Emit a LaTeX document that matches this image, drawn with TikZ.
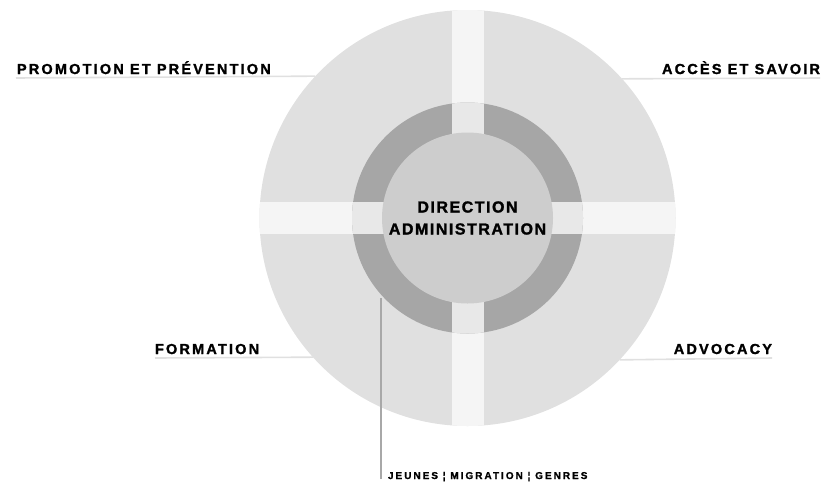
\documentclass[tikz,border=0pt]{standalone}
\usepackage{fontspec}
\setmainfont{Liberation Sans}
\newfontfamily\lblfont[LetterSpace=15,FakeBold=1.5]{Liberation Sans Bold}
\newfontfamily\ctrfont[LetterSpace=9.5,FakeBold=1.5]{Liberation Sans Bold}
\newfontfamily\smfont[LetterSpace=20,FakeBold=1.2]{Liberation Sans Bold}
\definecolor{outerc}{HTML}{E0E0E0}
\definecolor{bandc}{HTML}{F5F5F5}
\definecolor{bandin}{HTML}{E8E8E8}
\definecolor{ringc}{HTML}{A6A6A6}
\definecolor{innerc}{HTML}{CDCDCD}
\definecolor{linec}{HTML}{E0E0E0}
\definecolor{leadc}{HTML}{A8A8A8}
\tikzset{
  disc/.style={circle, inner sep=0pt, outer sep=0pt, draw=none},
  lbl/.style={inner sep=0pt, outer sep=0pt, font=\lblfont\fontsize{14.5}{17}\selectfont},
  uline/.style={draw=linec, line width=1.6pt},
  leader/.style={draw=leadc, line width=2pt}
}
\begin{document}
\begin{tikzpicture}[x=1pt,y=-1pt]
\useasboundingbox (0,0) rectangle (821,483);
\node[lbl, anchor=base west] (pp) at (17,74) {PROMOTION ET PRÉVENTION};
\node[lbl, anchor=base east] (as) at (820,74) {ACCÈS ET SAVOIR};
\node[lbl, anchor=base west] (fo) at (155,354) {FORMATION};
\node[lbl, anchor=base east] (ad) at (772,354) {ADVOCACY};
\coordinate (ppl) at (16,78);
\coordinate (asr) at (820,78);
\coordinate (fol) at (155,358);
\coordinate (adr) at (772,358);
% outer disc
\node[disc, fill=outerc, minimum size=416pt] (big) at (467.5,218) {};
\draw[uline] (ppl) -- (big.137.7);
\draw[uline] (big.42.3) -- (asr);
\draw[uline] (fol) -- (big.222.3);
\draw[uline] (big.317.7) -- (adr);
\begin{scope}
  \clip (big.center) circle[radius=208pt];
  \fill[bandc] (250,202) rectangle (690,234);
  \fill[bandc] (452,0) rectangle (484,440);
\end{scope}
% ring
\node[disc, fill=ringc, minimum size=231pt] (ring) at (big.center) {};
\begin{scope}
  \clip (ring.center) circle[radius=115.5pt];
  \fill[bandin] (340,202) rectangle (600,234);
  \fill[bandin] (452,90) rectangle (484,350);
\end{scope}
% core
\node[disc, fill=innerc, minimum size=171pt, align=center,
      font=\ctrfont\fontsize{16}{22}\selectfont] (core) at (big.center)
      {DIRECTION\\ADMINISTRATION};
% leader
\node[inner sep=0pt, outer sep=0pt, anchor=base west,
      font=\smfont\fontsize{10}{12}\selectfont] (jg) at (388,479)
      {JEUNES ¦ MIGRATION ¦ GENRES};
\coordinate (lt) at (381,298);
\draw[leader] (lt) -- (lt |- jg.base);
\end{tikzpicture}
\end{document}
